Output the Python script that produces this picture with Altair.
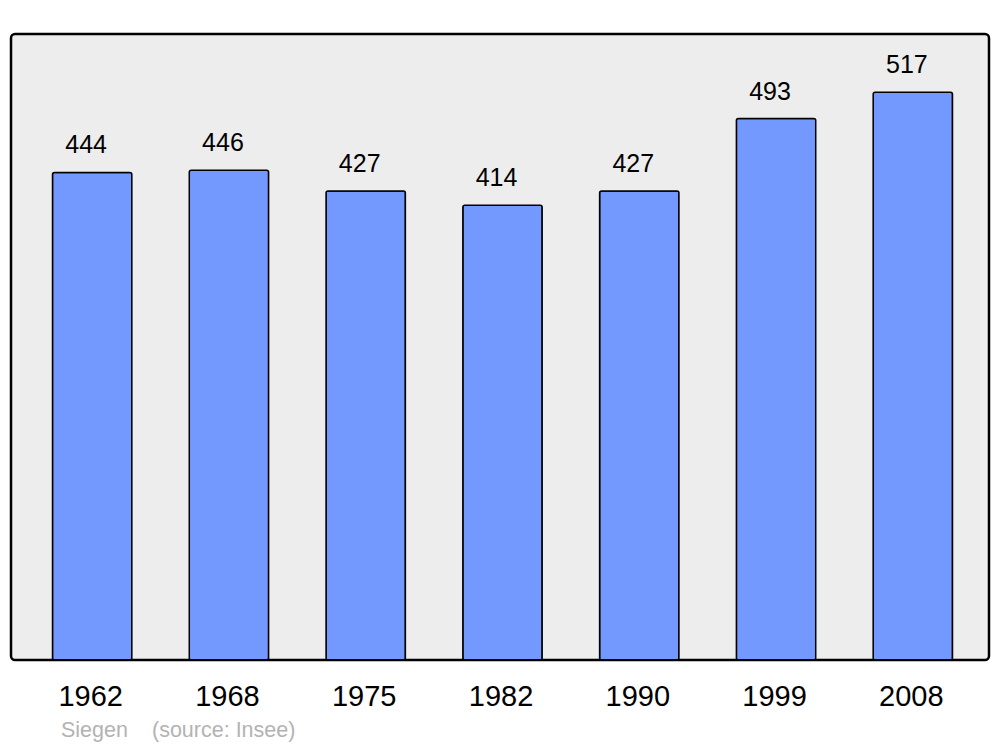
import altair as alt
import pandas as pd

years = ["1962", "1968", "1975", "1982", "1990", "1999", "2008"]
population = [444, 446, 427, 414, 427, 493, 517]
caption_place = "Siegen"
caption_source = "(source: Insee)"

df = pd.DataFrame({"year": years, "pop": population})

W, H = 978, 626

x = alt.X("year:N", sort=years, title=None,
          scale=alt.Scale(paddingInner=0.42, paddingOuter=0, range=[41.5, 941.5]),
          axis=alt.Axis(labelAngle=0, labelFontSize=29, labelFont="Liberation Sans",
                        labelColor="black", ticks=False, tickSize=0, domain=False,
                        labelBaseline="alphabetic", labelPadding=45, labelOffset=-1.5))
y = alt.Y("pop:Q", scale=alt.Scale(domain=[0, 570], nice=False), axis=None)

bars = alt.Chart(df).mark_bar(color="#7399ff", stroke="black", strokeWidth=1.5,
                              cornerRadius=2).encode(x=x, y=y)

labels = alt.Chart(df).mark_text(font="Liberation Sans", fontSize=25, color="black",
                                 baseline="alphabetic", dy=-19, dx=-6).encode(
    x=x, y=y, text="pop:Q")

cap1 = alt.Chart(pd.DataFrame({"t": [caption_place]})).mark_text(
    font="Liberation Sans", fontSize=21.5, color="#b3b3b3", align="left",
    baseline="alphabetic").encode(x=alt.value(50), y=alt.value(703), text="t:N")
cap2 = alt.Chart(pd.DataFrame({"t": [caption_source]})).mark_text(
    font="Liberation Sans", fontSize=21.5, color="#b3b3b3", align="left",
    baseline="alphabetic").encode(x=alt.value(141), y=alt.value(703), text="t:N")

chart = alt.layer(bars, labels, cap1, cap2).properties(
    width=W, height=H,
    autosize=alt.AutoSizeParams(type="none"),
    padding={"left": 3, "top": 26, "right": 3, "bottom": 86},
).configure_view(
    fill="#ededed", stroke="black", strokeWidth=2.5, cornerRadius=4
)

chart.save("out.html", embed_options={"renderer": "svg", "actions": False})
